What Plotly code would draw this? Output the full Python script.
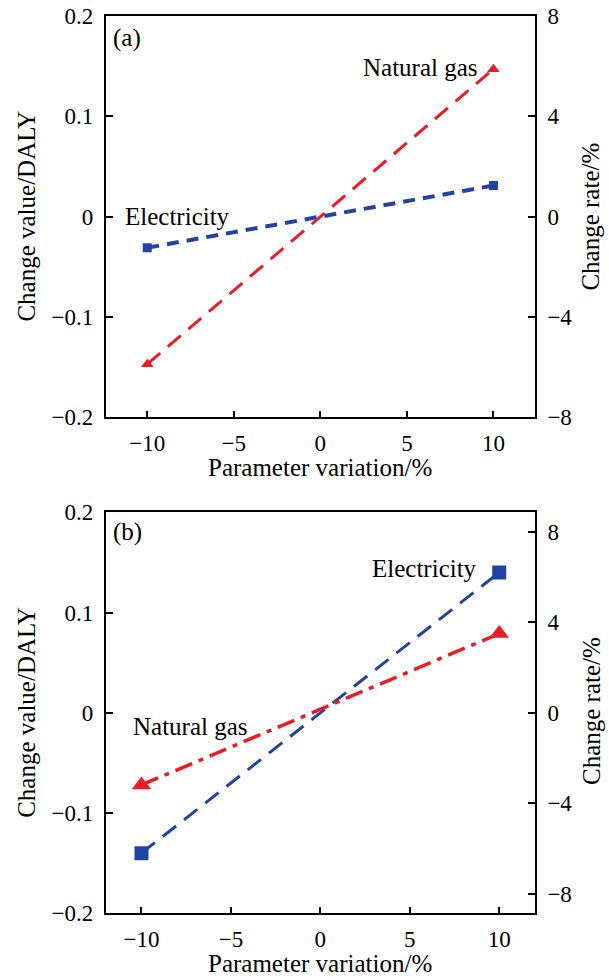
import plotly.graph_objects as go

# ---------------- data ----------------
x_variation = [-10, 10]
a_electricity = [-0.031, 0.031]
a_natural_gas = [-0.147, 0.147]
b_electricity = [-0.140, 0.140]
b_natural_gas = [-0.072, 0.079]

x_tickvals = [-10, -5, 0, 5, 10]
x_ticktext = ["−10", "−5", "0", "5", "10"]
y_tickvals = [-0.2, -0.1, 0, 0.1, 0.2]
y_ticktext = ["−0.2", "−0.1", "0", "0.1", "0.2"]
rate_tickvals = [-8, -4, 0, 4, 8]
rate_ticktext = ["−8", "−4", "0", "4", "8"]

# ---------------- style ----------------
W, H = 609, 979
FONT = "Liberation Serif"
RED = "#ec1c24"
BLUE = "#2243a3"

def px_x(p):
    return p / W

def px_y(p):
    return 1 - p / H

xdom = [px_x(105.7), px_x(535)]
ydom_a = [px_y(417.3), px_y(16)]
ydom_b = [px_y(913.3), px_y(512.3)]

tickfont = dict(family=FONT, size=23, color="black")
common = dict(showgrid=False, zeroline=False, showline=True, linecolor="black",
              linewidth=1.6, ticks="inside", ticklen=7, tickwidth=1.5,
              tickcolor="black", tickfont=tickfont, automargin=False)

fig = go.Figure()

# panel (a)
fig.add_trace(go.Scatter(x=x_variation, y=a_natural_gas, mode="lines+markers",
                         xaxis="x", yaxis="y", name="Natural gas",
                         line=dict(color=RED, width=3, dash="17px,10px"),
                         marker=dict(symbol="triangle-up", size=11, color=RED)))
fig.add_trace(go.Scatter(x=x_variation, y=a_electricity, mode="lines+markers",
                         xaxis="x", yaxis="y", name="Electricity",
                         line=dict(color=BLUE, width=4, dash="12px,8px"),
                         marker=dict(symbol="square", size=9, color=BLUE)))
# panel (b)
fig.add_trace(go.Scatter(x=x_variation, y=b_electricity, mode="lines+markers",
                         xaxis="x2", yaxis="y3", name="Electricity",
                         line=dict(color=BLUE, width=3, dash="17px,10px"),
                         marker=dict(symbol="square", size=14, color=BLUE)))
fig.add_trace(go.Scatter(x=x_variation, y=b_natural_gas, mode="lines+markers",
                         xaxis="x2", yaxis="y3", name="Natural gas",
                         line=dict(color=RED, width=3.5, dash="18px,7px,5px,7px"),
                         marker=dict(symbol="triangle-up", size=17, color=RED)))
# empty traces so the right-hand (change rate) axes are drawn
fig.add_trace(go.Scatter(x=[], y=[], xaxis="x", yaxis="y2", showlegend=False, hoverinfo="skip"))
fig.add_trace(go.Scatter(x=[], y=[], xaxis="x2", yaxis="y4", showlegend=False, hoverinfo="skip"))

fig.update_layout(
    width=W, height=H, autosize=False,
    margin=dict(l=0, r=0, t=0, b=0, pad=0, autoexpand=False),
    paper_bgcolor="white", plot_bgcolor="white",
    showlegend=False,
    xaxis=dict(domain=xdom, anchor="y", range=[-12.4, 12.4], mirror=True,
               tickvals=x_tickvals, ticktext=x_ticktext, ticklabelstandoff=4, **common),
    yaxis=dict(domain=ydom_a, anchor="x", range=[-0.2, 0.2],
               tickvals=y_tickvals, ticktext=y_ticktext, ticklabelstandoff=6, **common),
    yaxis2=dict(overlaying="y", anchor="x", side="right", range=[-8, 8],
                tickvals=rate_tickvals, ticktext=rate_ticktext, ticklabelstandoff=6, **common),
    xaxis2=dict(domain=xdom, anchor="y3", range=[-12, 12], mirror=True,
                tickvals=x_tickvals, ticktext=x_ticktext, ticklabelstandoff=4, **common),
    yaxis3=dict(domain=ydom_b, anchor="x2", range=[-0.2, 0.2],
                tickvals=y_tickvals, ticktext=y_ticktext, ticklabelstandoff=6, **common),
    yaxis4=dict(overlaying="y3", anchor="x2", side="right", range=[-8.87, 8.87],
                tickvals=rate_tickvals, ticktext=rate_ticktext, ticklabelstandoff=6, **common),
)

lab = dict(family=FONT, size=25, color="black")
ann = []
# panel labels and series labels
ann.append(dict(text="(a)", xref="x", yref="y", x=-12.1, y=0.178, xanchor="left", yanchor="middle"))
ann.append(dict(text="Natural gas", xref="x", yref="y", x=9.2, y=0.149, xanchor="right", yanchor="middle"))
ann.append(dict(text="Electricity", xref="x", yref="y", x=-11.4, y=0.0, xanchor="left", yanchor="middle"))
ann.append(dict(text="(b)", xref="x2", yref="y3", x=-11.7, y=0.180, xanchor="left", yanchor="middle"))
ann.append(dict(text="Electricity", xref="x2", yref="y3", x=8.85, y=0.144, xanchor="right", yanchor="middle"))
ann.append(dict(text="Natural gas", xref="x2", yref="y3", x=-10.6, y=-0.014, xanchor="left", yanchor="middle"))
# axis titles
for yc_left, yc_right, xt_y in [(216.6, 216.6, 467), (712.8, 711, 963)]:
    ann.append(dict(text="Change value/DALY", xref="paper", yref="paper",
                    x=px_x(27), y=px_y(yc_left), textangle=-90,
                    xanchor="center", yanchor="middle"))
    ann.append(dict(text="Change rate/%", xref="paper", yref="paper",
                    x=px_x(591), y=px_y(yc_right), textangle=-90,
                    xanchor="center", yanchor="middle"))
    ann.append(dict(text="Parameter variation/%", xref="paper", yref="paper",
                    x=px_x(320), y=px_y(xt_y),
                    xanchor="center", yanchor="middle"))
for a in ann:
    a["showarrow"] = False
    a["font"] = lab
fig.update_layout(annotations=ann)

fig.write_html("out.html", config={"displayModeBar": False},
               post_script="document.body.style.margin='0';document.body.style.overflow='hidden';")
